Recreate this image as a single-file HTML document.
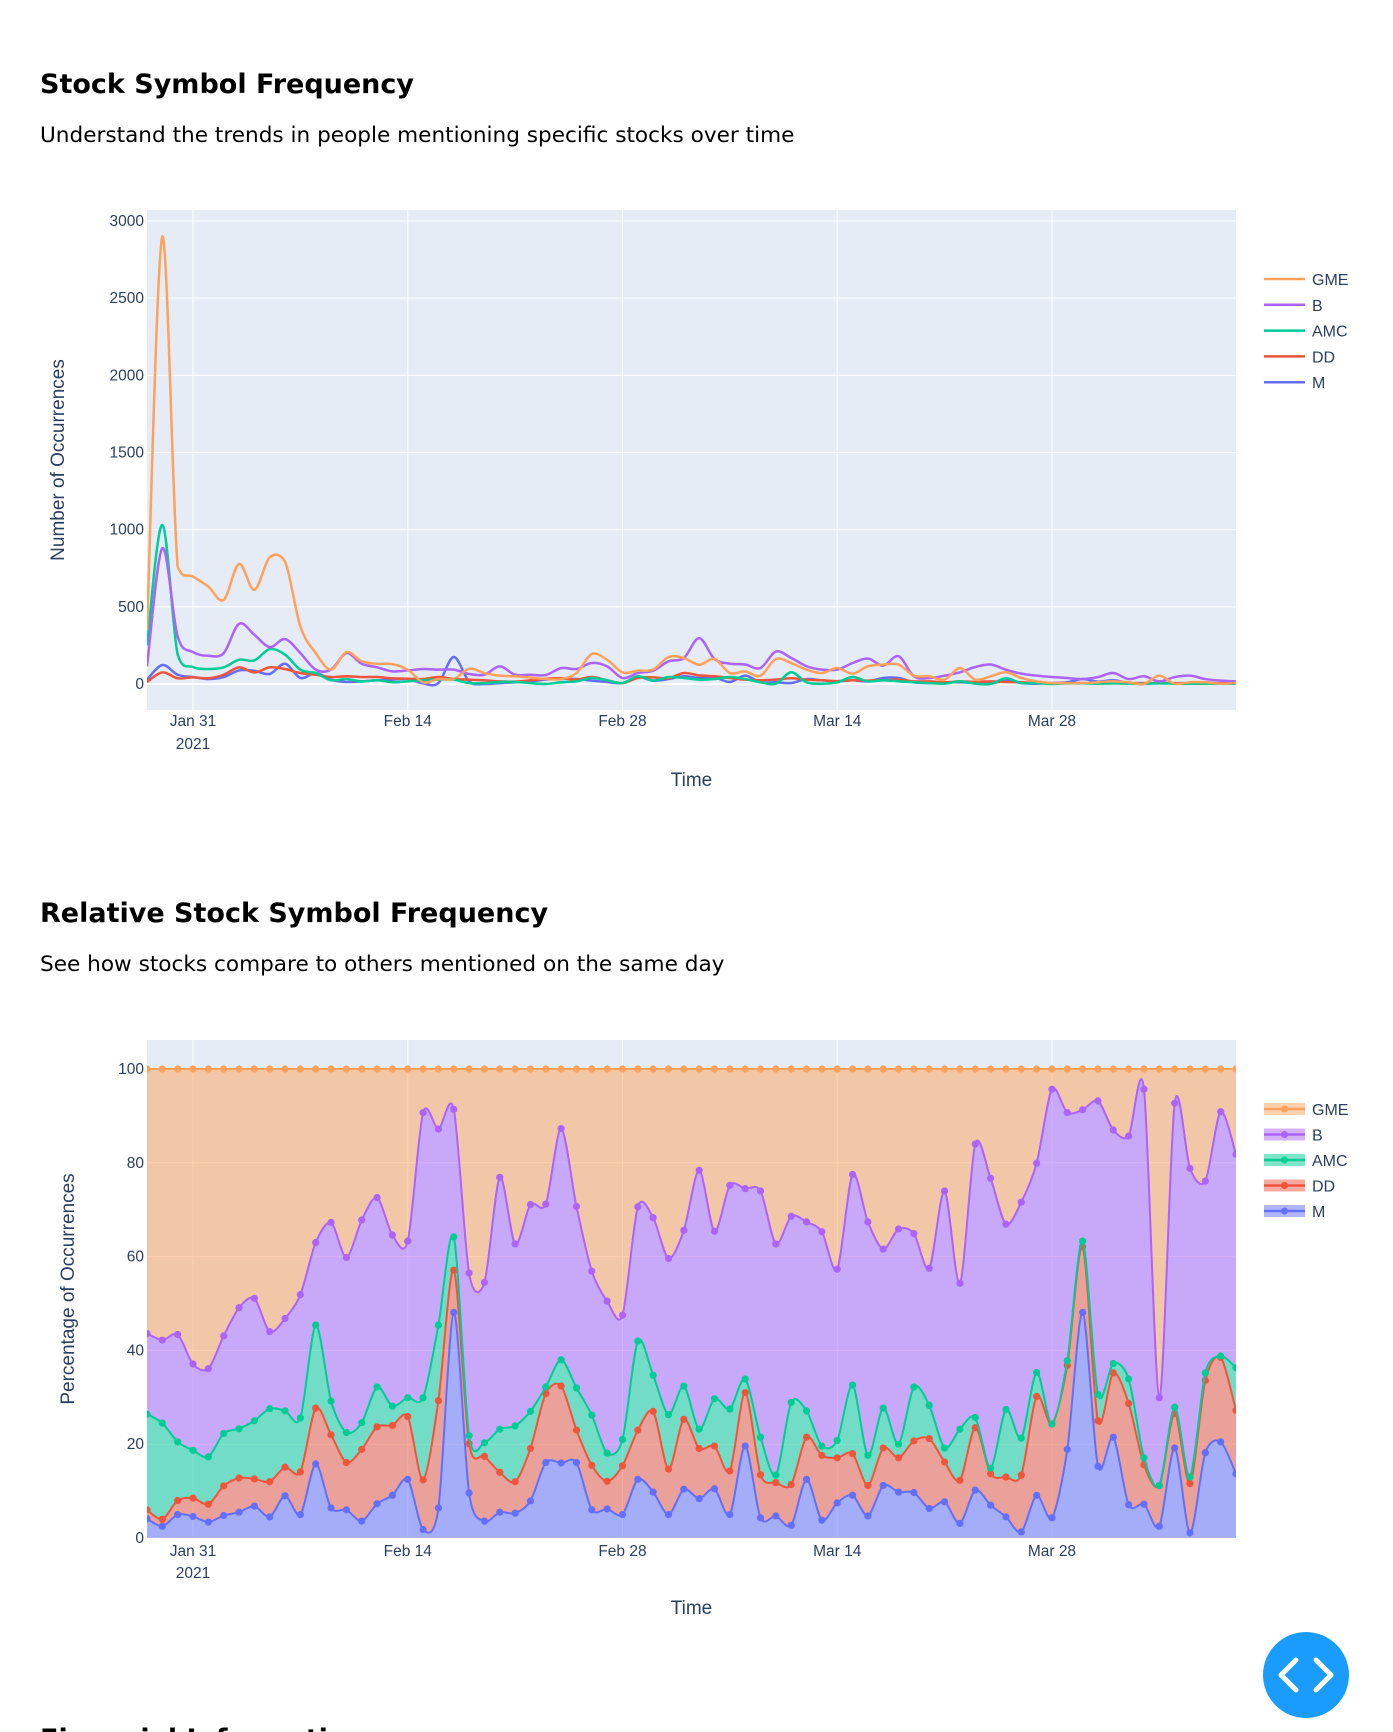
<!DOCTYPE html>
<html><head><meta charset="utf-8"><style>
html,body{margin:0;padding:0;background:#fff;width:1393px;height:1732px;overflow:hidden}
svg{display:block}
</style></head><body>
<svg id="page" width="1393" height="1732" xmlns="http://www.w3.org/2000/svg" font-family="Liberation Sans, Arial, sans-serif">
<g font-family="DejaVu Sans, sans-serif" fill="#000">
<text x="40" y="93" font-size="27" font-weight="bold">Stock Symbol Frequency</text>
<text x="40" y="142" font-size="21.6">Understand the trends in people mentioning specific stocks over time</text>
<text x="40" y="922" font-size="27" font-weight="bold">Relative Stock Symbol Frequency</text>
<text x="40" y="971" font-size="21.6">See how stocks compare to others mentioned on the same day</text>
<text x="40" y="1748" font-size="27" font-weight="bold">Financial Information</text>
</g>
<g id="chart1"></g>
<g id="chart2"></g>
<g>
<circle cx="1306" cy="1675" r="43" fill="#1a9cfc"/>
<path d="M1296 1660 L1281 1675 L1296 1690 M1316 1660 L1331 1675 L1316 1690" stroke="#fff" stroke-width="5" fill="none" stroke-linecap="round" stroke-linejoin="round"/>
</g>
</svg>
<script>
const seriesNames = ['GME','B','AMC','DD','M'];
const colors = ['#FFA15A','#AB63FA','#00CC96','#EF553B','#636EFA'];
const tickDays = [3,17,31,45,59];
const tickLabels = ['Jan 31','Feb 14','Feb 28','Mar 14','Mar 28'];
const countTicks = [0,500,1000,1500,2000,2500,3000];
const pctTicks = [0,20,40,60,80,100];

const gmeCount = [351,2900,760,696,631,545,778,610,821,793,373,200,93,207,147,131,129,93,11,32,32,99,71,54,50,41,32,32,71,194,157,75,86,93,175,168,125,162,71,82,54,162,136,93,71,104,67,115,126,126,54,50,28,104,28,50,76,39,17,6,6,6,11,17,11,0,54,2,11,11,2,6];
const bCount = [114,880,308,207,183,200,390,319,239,291,200,93,93,200,131,108,82,88,97,93,93,65,60,114,60,60,58,103,97,136,114,39,71,86,147,168,297,162,132,126,104,210,169,115,93,93,136,165,119,180,50,39,54,76,110,126,93,67,54,45,39,32,45,71,32,50,17,45,54,32,22,17];
const amcCount = [250,1030,190,110,97,108,157,153,226,190,93,71,24,32,17,24,11,17,24,28,28,6,6,13,13,6,0,11,17,39,24,6,50,22,45,39,28,32,45,32,11,2,76,11,2,11,45,17,24,17,11,6,2,17,2,0,37,6,6,0,4,4,2,4,2,2,4,2,2,2,2,2];
const ddCount = [13,75,37,43,37,60,108,75,108,97,71,60,45,50,45,45,37,34,32,45,32,28,24,17,15,24,34,37,28,45,24,6,39,43,37,71,56,50,39,28,24,28,37,28,24,19,24,22,24,28,17,17,11,17,13,17,13,11,6,6,6,6,6,6,6,6,6,6,6,6,6,6];
const mCount = [28,123,60,45,32,45,88,86,65,131,39,71,28,13,17,24,28,32,4,6,175,17,0,6,11,17,28,32,32,22,13,6,45,22,32,50,39,43,13,54,11,11,6,32,24,17,24,17,39,39,11,6,11,11,6,2,24,6,2,6,11,32,15,24,6,2,6,6,2,11,2,2];

// stacked percentage levels (top edge of each band)
const gmeStack = [100,100,100,100,100,100,100,100,100,100,100,100,100,100,100,100,100,100,100,100,100,100,100,100,100,100,100,100,100,100,100,100,100,100,100,100,100,100,100,100,100,100,100,100,100,100,100,100,100,100,100,100,100,100,100,100,100,100,100,100,100,100,100,100,100,100,100,100,100,100,100,100];
const bStack = [43.6,42.2,43.4,37.1,36.1,43.1,49.1,51.1,44,46.8,51.9,63,67.3,59.8,67.8,72.6,64.6,63.3,90.7,87.2,91.4,56.5,54.5,76.9,62.7,71.1,71.2,87.3,70.7,56.9,50.5,47.5,70.6,68.3,59.6,65.6,78.4,65.4,75.2,74.5,74,62.7,68.6,67.4,65.3,57.3,77.5,67.4,61.6,65.9,64.9,57.5,74,54.3,84,76.7,66.9,71.6,79.9,95.7,90.7,91.3,93.2,87,85.7,95.7,29.9,92.7,78.8,76.1,90.9,81.8];
const amcStack = [26.4,24.5,20.5,18.7,17.3,22.3,23.3,25,27.6,27.1,25.6,45.4,29.2,22.5,24.6,32.2,28.1,29.9,29.9,45.4,64.2,21.8,20.3,23.2,23.9,27,32.2,38,32,26.2,18.1,21,42,34.7,26.3,32.4,23.2,29.7,27.5,33.9,21.5,13.4,28.9,27.1,19.6,20.8,32.6,17.6,27.7,20,32.2,28.3,19.2,23.2,25.7,14.9,27.4,21.3,35.3,24.3,37.8,63.3,30.6,37.2,33.9,17.1,11.2,27.9,13,35.2,38.8,36.3];
const ddStack = [6,4,8,8.5,7.2,11.1,12.8,12.6,12,15.1,14.1,27.7,22,16.1,18.9,23.7,24,25.9,12.4,29.3,57.1,20.1,17.4,14,12,19.1,30.8,32.4,23,15.5,12.1,15.4,23,27,14.7,25.3,19.1,19.6,14.3,31,13.5,11.8,11.4,21.5,17.6,17.1,18,11.2,19.2,17.1,20.7,21.2,16.2,12.3,23.5,13.7,13,13.4,30.2,24.3,36.8,62.1,25,35.2,28.7,15.6,11.2,26.5,11.6,33.6,38.5,27.2];
const mStack = [4.1,2.5,5,4.6,3.4,4.8,5.5,6.8,4.5,9,5,15.8,6.4,6,3.6,7.3,9.1,12.5,1.8,6.4,48.1,9.6,3.6,5.5,5.3,7.9,16.1,16,16.1,6,6.2,5,12.5,9.8,5,10.4,8.4,10.5,5,19.6,4.3,4.7,2.7,12.5,3.8,7.5,9.1,4.7,11.2,9.8,9.7,6.3,7.7,3.1,10.2,7,4.5,1.3,9.1,4.3,18.9,48.1,15.3,21.5,7.1,7.2,2.5,19.2,1.1,18.2,20.5,13.7];

const NS='http://www.w3.org/2000/svg';
function mk(tag, attrs, parent){const e=document.createElementNS(NS,tag);for(const k in attrs)e.setAttribute(k,attrs[k]);if(parent)parent.appendChild(e);return e;}
const X0=147, X1=1236, NDAYS=gmeCount.length-1;
function xScale(d){return X0+(X1-X0)*d/NDAYS;}
function splinePath(pts, move, clampY, k){
  k=k||6;
  let s=(move?'M':'L')+pts[0][0].toFixed(2)+' '+pts[0][1].toFixed(2);
  for(let i=0;i<pts.length-1;i++){
    const p0=pts[Math.max(0,i-1)],p1=pts[i],p2=pts[i+1],p3=pts[Math.min(pts.length-1,i+2)];
    const c1=[p1[0]+(p2[0]-p0[0])/k,p1[1]+(p2[1]-p0[1])/k];
    const c2=[p2[0]-(p3[0]-p1[0])/k,p2[1]-(p3[1]-p1[1])/k];
    if(clampY){
      const lo=Math.min(p1[1],p2[1])-4,hi=Math.max(p1[1],p2[1])+4;
      c1[1]=Math.min(hi,Math.max(lo,c1[1]));c2[1]=Math.min(hi,Math.max(lo,c2[1]));
    }
    s+=' C'+c1[0].toFixed(2)+' '+c1[1].toFixed(2)+' '+c2[0].toFixed(2)+' '+c2[1].toFixed(2)+' '+p2[0].toFixed(2)+' '+p2[1].toFixed(2);
  }
  return s;
}
function drawFrame(g, top, bot, yScale, yTicks, yTitle, tickY, yearY, timeY, titleX, idp){
  const bg=mk('rect',{x:X0,y:top,width:X1-X0,height:bot-top,fill:'#E5ECF6'},g);
  
  
  yTicks.forEach(v=>{
    const y=yScale(v);
    const l=mk('line',{x1:X0,x2:X1,y1:y,y2:y,stroke:'#fff','stroke-width':(v===0?2:1)},g);
    
    
    const t=mk('text',{x:X0-3,y:y+5,'text-anchor':'end','font-size':15.5,fill:'#2a3f5f'},g);
    t.textContent=v;
    
    
  });
  tickDays.forEach((d,i)=>{
    const x=xScale(d);
    const l=mk('line',{x1:x,x2:x,y1:top,y2:bot,stroke:'#fff','stroke-width':1},g);
    
    
    const t=mk('text',{x:x,y:tickY,'text-anchor':'middle','font-size':15.5,fill:'#2a3f5f'},g);
    t.textContent=tickLabels[i];
    
    
  });
  const yr=mk('text',{x:xScale(tickDays[0]),y:yearY,'text-anchor':'middle','font-size':15.5,fill:'#2a3f5f'},g);
  yr.textContent='2021';
  
  
  const xt=mk('text',{x:(X0+X1)/2,y:timeY,'text-anchor':'middle','font-size':19,fill:'#2a3f5f'},g);
  xt.textContent='Time';
  
  
  const cy=(top+bot)/2;
  const yt=mk('text',{x:titleX,y:cy,'text-anchor':'middle','font-size':19,fill:'#2a3f5f',transform:'rotate(-90 '+titleX+' '+cy+')'},g);
  yt.textContent=yTitle;
  
  
}
function legend(g, y0, dy, area, idp){
  seriesNames.forEach((n,i)=>{
    const y=y0+dy*i;
    const it=mk('g',{},g);
    
    
    if(area){mk('rect',{x:1264,y:y-6,width:41,height:12,fill:colors[i],'fill-opacity':0.5},it);}
    mk('line',{x1:1264,x2:1305,y1:y,y2:y,stroke:colors[i],'stroke-width':2.5},it);
    if(area){mk('circle',{cx:1284.5,cy:y,r:3.5,fill:colors[i]},it);}
    const t=mk('text',{x:1312,y:y+6,'font-size':16,fill:'#2a3f5f'},it);
    t.textContent=n;
  });
}
// chart 1
(function(){
  const g=document.getElementById('chart1');
  const TOP=210,BOT=710;
  const yScale=v=>684-v*(463/3000);
  drawFrame(g,TOP,BOT,yScale,countTicks,'Number of Occurrences',726,749,786,64,'count');
  const clip=mk('clipPath',{id:'c1'},g);mk('rect',{x:X0,y:TOP,width:X1-X0,height:BOT-TOP},clip);
  const lg=mk('g',{'clip-path':'url(#c1)'},g);
  const data=[mCount,ddCount,amcCount,bCount,gmeCount];
  const idx=[4,3,2,1,0];
  data.forEach((arr,k)=>{
    const i=idx[k];
    const pts=arr.map((v,d)=>[xScale(d),yScale(v)]);
    const p=mk('path',{d:splinePath(pts,true,true),fill:'none',stroke:colors[i],'stroke-width':2.5,'stroke-linejoin':'round'},lg);
    
    
  });
  legend(g,279,25.8,false,'count');
})();
// chart 2
(function(){
  const g=document.getElementById('chart2');
  const TOP=1040,BOT=1538;
  const yScale=v=>1538-v*4.69;
  drawFrame(g,TOP,BOT,yScale,pctTicks,'Percentage of Occurrences',1556,1578,1614,74,'pct');
  const clip=mk('clipPath',{id:'c2'},g);mk('rect',{x:X0,y:TOP,width:X1-X0,height:BOT-TOP+1},clip);
  const lg=mk('g',{'clip-path':'url(#c2)'},g);
  const stacks=[mStack,ddStack,amcStack,bStack,gmeStack];
  const idx=[4,3,2,1,0];
  let prev=null;
  stacks.forEach((arr,k)=>{
    const i=idx[k];
    const pts=arr.map((v,d)=>[xScale(d),yScale(v)]);
    let d=splinePath(pts,true,false,7);
    if(prev){d+=' '+splinePath(prev.slice().reverse(),false,false,7);}else{d+=' L'+xScale(NDAYS)+' '+yScale(0)+' L'+xScale(0)+' '+yScale(0);}
    d+=' Z';
    const a=mk('path',{d:d,fill:colors[i],'fill-opacity':0.5,stroke:'none'},lg);
    
    
    prev=pts;
  });
  stacks.forEach((arr,k)=>{
    const i=idx[k];
    const pts=arr.map((v,d)=>[xScale(d),yScale(v)]);
    const p=mk('path',{d:splinePath(pts,true,false,7),fill:'none',stroke:colors[i],'stroke-width':2},lg);
    
    
    pts.forEach(pt=>{
      const c=mk('circle',{cx:pt[0],cy:pt[1],r:3.6,fill:colors[i]},lg);
      
      
    });
  });
  legend(g,1109,25.5,true,'pct');
})();
</script>
</body></html>
